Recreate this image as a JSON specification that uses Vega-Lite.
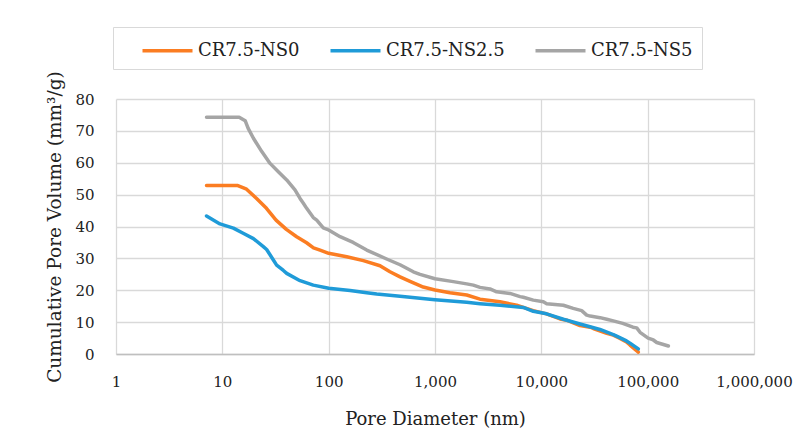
{
  "$schema": "https://vega.github.io/schema/vega-lite/v6.json",
  "width": 638,
  "height": 255,
  "autosize": "none",
  "padding": {"left": 116, "top": 99, "right": 46, "bottom": 85},
  "background": "white",
  "config": {
    "font": "DejaVu Serif",
    "view": {"stroke": null},
    "axis": {"labelFont": "DejaVu Serif", "titleFont": "DejaVu Serif", "labelColor": "#222", "titleColor": "#222", "titleFontWeight": "normal", "gridColor": "#d9d9d9", "gridWidth": 1.3, "ticks": false, "tickSize": 0},
    "legend": {"labelFont": "DejaVu Serif", "titleFont": "DejaVu Serif"}
  },
  "data": {"values": [
    {"s":"CR7.5-NS0","d":7.1,"v":52.9},{"s":"CR7.5-NS0","d":13.8,"v":52.9},{"s":"CR7.5-NS0","d":16.9,"v":51.7},{"s":"CR7.5-NS0","d":21,"v":48.8},{"s":"CR7.5-NS0","d":26,"v":45.7},{"s":"CR7.5-NS0","d":32,"v":42},{"s":"CR7.5-NS0","d":40,"v":39.1},{"s":"CR7.5-NS0","d":50,"v":36.8},{"s":"CR7.5-NS0","d":62,"v":34.9},{"s":"CR7.5-NS0","d":72,"v":33.3},{"s":"CR7.5-NS0","d":83,"v":32.6},{"s":"CR7.5-NS0","d":100,"v":31.6},{"s":"CR7.5-NS0","d":148,"v":30.5},{"s":"CR7.5-NS0","d":212,"v":29.3},{"s":"CR7.5-NS0","d":304,"v":27.7},{"s":"CR7.5-NS0","d":377,"v":25.8},{"s":"CR7.5-NS0","d":469,"v":24.2},{"s":"CR7.5-NS0","d":582,"v":22.8},{"s":"CR7.5-NS0","d":776,"v":21},{"s":"CR7.5-NS0","d":1000,"v":20.1},{"s":"CR7.5-NS0","d":1384,"v":19.2},{"s":"CR7.5-NS0","d":1986,"v":18.5},{"s":"CR7.5-NS0","d":2650,"v":17.2},{"s":"CR7.5-NS0","d":4080,"v":16.4},{"s":"CR7.5-NS0","d":5860,"v":15.3},{"s":"CR7.5-NS0","d":6770,"v":14.6},{"s":"CR7.5-NS0","d":8400,"v":13.6},{"s":"CR7.5-NS0","d":11200,"v":12.6},{"s":"CR7.5-NS0","d":15000,"v":11},{"s":"CR7.5-NS0","d":17300,"v":10.6},{"s":"CR7.5-NS0","d":23100,"v":8.9},{"s":"CR7.5-NS0","d":28800,"v":8.4},{"s":"CR7.5-NS0","d":30800,"v":8.0},{"s":"CR7.5-NS0","d":41200,"v":6.5},{"s":"CR7.5-NS0","d":47500,"v":5.9},{"s":"CR7.5-NS0","d":54900,"v":4.9},{"s":"CR7.5-NS0","d":63200,"v":3.8},{"s":"CR7.5-NS0","d":68200,"v":2.8},{"s":"CR7.5-NS0","d":81700,"v":0.6},
    {"s":"CR7.5-NS2.5","d":7.1,"v":43.3},{"s":"CR7.5-NS2.5","d":9.5,"v":40.8},{"s":"CR7.5-NS2.5","d":12.7,"v":39.5},{"s":"CR7.5-NS2.5","d":15.7,"v":37.9},{"s":"CR7.5-NS2.5","d":19.6,"v":36.2},{"s":"CR7.5-NS2.5","d":24.3,"v":33.7},{"s":"CR7.5-NS2.5","d":26.1,"v":32.8},{"s":"CR7.5-NS2.5","d":30.2,"v":29.5},{"s":"CR7.5-NS2.5","d":32.4,"v":27.9},{"s":"CR7.5-NS2.5","d":37.5,"v":26.2},{"s":"CR7.5-NS2.5","d":40.3,"v":25.3},{"s":"CR7.5-NS2.5","d":53.8,"v":23},{"s":"CR7.5-NS2.5","d":71.7,"v":21.6},{"s":"CR7.5-NS2.5","d":100,"v":20.6},{"s":"CR7.5-NS2.5","d":159,"v":19.9},{"s":"CR7.5-NS2.5","d":228,"v":19.2},{"s":"CR7.5-NS2.5","d":283,"v":18.8},{"s":"CR7.5-NS2.5","d":469,"v":18.1},{"s":"CR7.5-NS2.5","d":1000,"v":17},{"s":"CR7.5-NS2.5","d":1986,"v":16.2},{"s":"CR7.5-NS2.5","d":2650,"v":15.8},{"s":"CR7.5-NS2.5","d":4080,"v":15.3},{"s":"CR7.5-NS2.5","d":6770,"v":14.6},{"s":"CR7.5-NS2.5","d":8400,"v":13.4},{"s":"CR7.5-NS2.5","d":11200,"v":12.6},{"s":"CR7.5-NS2.5","d":16100,"v":10.9},{"s":"CR7.5-NS2.5","d":23100,"v":9.4},{"s":"CR7.5-NS2.5","d":35600,"v":7.7},{"s":"CR7.5-NS2.5","d":47500,"v":6.1},{"s":"CR7.5-NS2.5","d":51100,"v":5.6},{"s":"CR7.5-NS2.5","d":63200,"v":4.1},{"s":"CR7.5-NS2.5","d":68200,"v":3.4},{"s":"CR7.5-NS2.5","d":81700,"v":1.6},
    {"s":"CR7.5-NS5","d":7.1,"v":74.3},{"s":"CR7.5-NS5","d":14.4,"v":74.3},{"s":"CR7.5-NS5","d":16.4,"v":73.2},{"s":"CR7.5-NS5","d":17.5,"v":70.8},{"s":"CR7.5-NS5","d":19.6,"v":67.7},{"s":"CR7.5-NS5","d":23.5,"v":63.5},{"s":"CR7.5-NS5","d":28.1,"v":59.8},{"s":"CR7.5-NS5","d":33.6,"v":57.2},{"s":"CR7.5-NS5","d":40.3,"v":54.6},{"s":"CR7.5-NS5","d":48.2,"v":51.5},{"s":"CR7.5-NS5","d":53.8,"v":48.8},{"s":"CR7.5-NS5","d":57.8,"v":47.3},{"s":"CR7.5-NS5","d":62.1,"v":45.7},{"s":"CR7.5-NS5","d":71.7,"v":42.8},{"s":"CR7.5-NS5","d":77.2,"v":42},{"s":"CR7.5-NS5","d":89,"v":39.6},{"s":"CR7.5-NS5","d":100,"v":38.9},{"s":"CR7.5-NS5","d":128,"v":36.8},{"s":"CR7.5-NS5","d":170,"v":35},{"s":"CR7.5-NS5","d":228,"v":32.6},{"s":"CR7.5-NS5","d":351,"v":29.8},{"s":"CR7.5-NS5","d":469,"v":28},{"s":"CR7.5-NS5","d":542,"v":26.9},{"s":"CR7.5-NS5","d":625,"v":25.8},{"s":"CR7.5-NS5","d":723,"v":25},{"s":"CR7.5-NS5","d":1000,"v":23.6},{"s":"CR7.5-NS5","d":1486,"v":22.7},{"s":"CR7.5-NS5","d":1986,"v":22},{"s":"CR7.5-NS5","d":2291,"v":21.6},{"s":"CR7.5-NS5","d":2650,"v":20.9},{"s":"CR7.5-NS5","d":3290,"v":20.4},{"s":"CR7.5-NS5","d":3800,"v":19.5},{"s":"CR7.5-NS5","d":5070,"v":19},{"s":"CR7.5-NS5","d":6310,"v":18},{"s":"CR7.5-NS5","d":6770,"v":17.8},{"s":"CR7.5-NS5","d":8400,"v":16.9},{"s":"CR7.5-NS5","d":10450,"v":16.4},{"s":"CR7.5-NS5","d":11220,"v":15.8},{"s":"CR7.5-NS5","d":16100,"v":15.3},{"s":"CR7.5-NS5","d":19950,"v":14.3},{"s":"CR7.5-NS5","d":23950,"v":13.6},{"s":"CR7.5-NS5","d":26700,"v":12.2},{"s":"CR7.5-NS5","d":28800,"v":11.9},{"s":"CR7.5-NS5","d":35650,"v":11.4},{"s":"CR7.5-NS5","d":41200,"v":10.9},{"s":"CR7.5-NS5","d":47500,"v":10.4},{"s":"CR7.5-NS5","d":58300,"v":9.6},{"s":"CR7.5-NS5","d":72800,"v":8.4},{"s":"CR7.5-NS5","d":78900,"v":8.2},{"s":"CR7.5-NS5","d":84800,"v":6.8},{"s":"CR7.5-NS5","d":101000,"v":5},{"s":"CR7.5-NS5","d":113000,"v":4.4},{"s":"CR7.5-NS5","d":121700,"v":3.6},{"s":"CR7.5-NS5","d":130700,"v":3.3},{"s":"CR7.5-NS5","d":156600,"v":2.5}
  ]},
  "mark": {"type": "line", "strokeWidth": 3.5, "strokeCap": "round", "strokeJoin": "round"},
  "encoding": {
    "x": {"field": "d", "type": "quantitative", "title": "Pore Diameter (nm)",
      "scale": {"type": "log", "domain": [1, 1000000], "nice": false},
      "axis": {"values": [1,10,100,1000,10000,100000,1000000], "format": ",", "labelFontSize": 15, "labelPadding": 20, "titleFontSize": 18, "titlePadding": 21, "domainColor": "#bfbfbf", "domainWidth": 1.6, "labelFlush": false}},
    "y": {"field": "v", "type": "quantitative", "title": "Cumulative Pore Volume (mm³/g)",
      "scale": {"domain": [0, 80], "nice": false},
      "axis": {"values": [0,10,20,30,40,50,60,70,80], "labelFontSize": 15, "labelPadding": 22, "titleFontSize": 18.5, "titlePadding": 10, "domain": false}},
    "color": {"field": "s", "type": "nominal", "title": " ",
      "scale": {"domain": ["CR7.5-NS0","CR7.5-NS2.5","CR7.5-NS5"], "range": ["#FB7D22","#1F9BD8","#A5A5A5"]},
      "legend": {"orient": "none", "legendX": -3, "legendY": -72, "direction": "horizontal", "titleOrient": "left", "titlePadding": 31, "titleFontSize": 18, "symbolType": "M-2,0H2", "symbolSize": 625, "symbolStrokeWidth": 3.5, "symbolFillColor": "transparent", "labelFontSize": 18, "labelColor": "#222", "labelOffset": 16, "columnPadding": 23, "padding": 9, "strokeColor": "#d9d9d9", "labelLimit": 300}}
  }
}
